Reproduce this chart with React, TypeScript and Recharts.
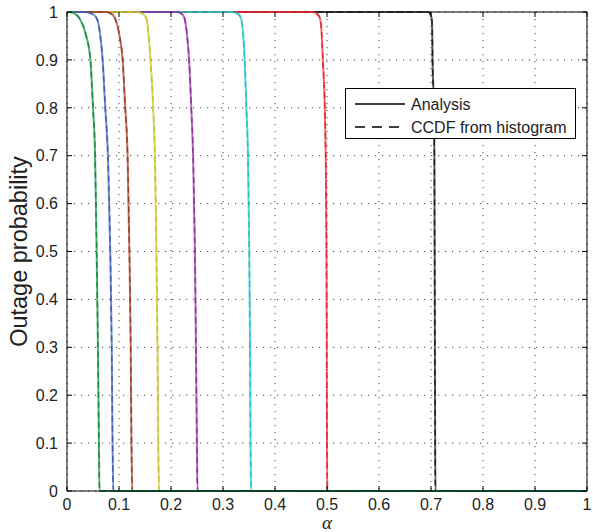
import { LineChart, Line, XAxis, YAxis, CartesianGrid, Label, ReferenceLine } from "recharts";

// outage probability levels shared by every curve
const P_LEVELS = [1, 1, 0.995, 0.985, 0.95, 0.9, 0.8, 0.7, 0.5, 0.3, 0.1, 0, 0];

// alpha where each curve passes the levels above
const ALPHA_GREEN = [0, 0.004, 0.017, 0.025, 0.037, 0.045, 0.05, 0.054, 0.057, 0.0595, 0.0614, 0.0625, 1];
const ALPHA_BLUE = [0, 0.035, 0.05, 0.058, 0.064, 0.0685, 0.0736, 0.0787, 0.0832, 0.086, 0.0876, 0.089, 1];
const ALPHA_BROWN = [0, 0.075, 0.087, 0.093, 0.101, 0.107, 0.112, 0.1165, 0.12, 0.1225, 0.124, 0.1254, 1];
const ALPHA_YELLOW = [0, 0.135, 0.147, 0.153, 0.157, 0.1606, 0.1657, 0.169, 0.172, 0.174, 0.1755, 0.177, 1];
const ALPHA_PURPLE = [0, 0.212, 0.222, 0.2265, 0.231, 0.2348, 0.239, 0.2425, 0.246, 0.248, 0.2498, 0.251, 1];
const ALPHA_CYAN = [0, 0.318, 0.33, 0.335, 0.339, 0.3417, 0.345, 0.348, 0.3505, 0.352, 0.353, 0.354, 1];
const ALPHA_RED = [0, 0.472, 0.482, 0.487, 0.49, 0.492, 0.4958, 0.4975, 0.499, 0.4995, 0.5, 0.5005, 1];
const ALPHA_BLACK = [0, 0.695, 0.699, 0.7015, 0.7025, 0.703, 0.7055, 0.7065, 0.707, 0.7075, 0.708, 0.7085, 1];

const TICKS = [0, 0.1, 0.2, 0.3, 0.4, 0.5, 0.6, 0.7, 0.8, 0.9, 1];
const TICK_LABELS = ["0", "0.1", "0.2", "0.3", "0.4", "0.5", "0.6", "0.7", "0.8", "0.9", "1"];

// drawn first to last, green ends up on top
const CURVES = [
  { name: "black", color: "#1a1a1a", alpha: ALPHA_BLACK },
  { name: "red", color: "#e8262b", alpha: ALPHA_RED },
  { name: "cyan", color: "#20c0c4", alpha: ALPHA_CYAN },
  { name: "purple", color: "#8c2e9c", alpha: ALPHA_PURPLE },
  { name: "yellow", color: "#c4c42a", alpha: ALPHA_YELLOW },
  { name: "brown", color: "#9e3a20", alpha: ALPHA_BROWN },
  { name: "blue", color: "#3b5cb8", alpha: ALPHA_BLUE },
  { name: "green", color: "#118c3e", alpha: ALPHA_GREEN },
];

const FONT = "'Liberation Sans', Arial, sans-serif";
const TICK_LEN = 5;

const W = 593;
const H = 532;
const M = { top: 12, right: 6, bottom: 0, left: 0 };
const X_AXIS_H = 41;
const Y_AXIS_W = 67;
const PLOT_TOP = M.top;
const PLOT_BOTTOM = H - M.bottom - X_AXIS_H;
const PLOT_LEFT = M.left + Y_AXIS_W;
const PLOT_RIGHT = W - M.right;

// bottom tick with label, plus the mirrored inward tick on the top edge
const BottomTick = (props: any) => {
  const { x, index } = props;
  return (
    <g>
      <line x1={x} x2={x} y1={PLOT_BOTTOM} y2={PLOT_BOTTOM - TICK_LEN} stroke="#000" />
      <line x1={x} x2={x} y1={PLOT_TOP} y2={PLOT_TOP + TICK_LEN} stroke="#000" />
      <text x={x} y={PLOT_BOTTOM + 19} textAnchor="middle" fontSize={16} fill="#222" fontFamily={FONT}>
        {TICK_LABELS[index]}
      </text>
    </g>
  );
};

const LeftTick = (props: any) => {
  const { y, index } = props;
  return (
    <g>
      <line x1={PLOT_LEFT} x2={PLOT_LEFT + TICK_LEN} y1={y} y2={y} stroke="#000" />
      <line x1={PLOT_RIGHT} x2={PLOT_RIGHT - TICK_LEN} y1={y} y2={y} stroke="#000" />
      <text x={PLOT_LEFT - 9} y={y} dy="0.36em" textAnchor="end" fontSize={16} fill="#222" fontFamily={FONT}>
        {TICK_LABELS[index]}
      </text>
    </g>
  );
};

const YTitle = () => {
  const cx = 19;
  const cy = (PLOT_TOP + PLOT_BOTTOM) / 2;
  return (
    <text
      x={cx}
      y={cy}
      transform={`rotate(-90 ${cx} ${cy})`}
      textAnchor="middle"
      dominantBaseline="central"
      fontSize={23.5}
      fill="#222"
      fontFamily={FONT}
    >
      Outage probability
    </text>
  );
};

const XTitle = () => (
  <text
    x={(PLOT_LEFT + PLOT_RIGHT) / 2}
    y={PLOT_BOTTOM + 38}
    textAnchor="middle"
    fontSize={19}
    fontStyle="italic"
    fill="#222"
    fontFamily="'Liberation Serif', 'DejaVu Serif', serif"
  >
    α
  </text>
);

export default function App() {
  return (
    <div style={{ position: "absolute", left: 0, top: 0, width: W, height: H, background: "#fff", fontFamily: FONT }}>
      <style>{"html, body { margin: 0; padding: 0; overflow: hidden; }"}</style>
      <LineChart width={W} height={H} margin={M}>
        <CartesianGrid stroke="#444" strokeDasharray="1.2 5.8" />
        <XAxis
          dataKey="a"
          type="number"
          domain={[0, 1]}
          ticks={TICKS}
          height={X_AXIS_H}
          tickSize={0}
          tickMargin={0}
          tickLine={false}
          axisLine={{ stroke: "#000" }}
          tick={<BottomTick />}
          interval={0}
        >
          <Label content={<XTitle />} />
        </XAxis>
        <YAxis
          type="number"
          domain={[0, 1]}
          ticks={TICKS}
          width={Y_AXIS_W}
          tickSize={0}
          tickMargin={0}
          tickLine={false}
          axisLine={{ stroke: "#000" }}
          tick={<LeftTick />}
          interval={0}
        >
          <Label content={<YTitle />} />
        </YAxis>
        <ReferenceLine x={1} stroke="#000" />
        <ReferenceLine y={1} stroke="#000" />
        {CURVES.flatMap((c) => {
          const d = c.alpha.map((a, i) => ({ a, p: P_LEVELS[i] }));
          return [
            <Line
              key={c.name + "-solid"}
              data={d}
              dataKey="p"
              type="monotone"
              stroke={c.color}
              strokeOpacity={0.7}
              strokeWidth={2}
              dot={false}
              activeDot={false}
              isAnimationActive={false}
            />,
            <Line
              key={c.name + "-dash"}
              data={d}
              dataKey="p"
              type="monotone"
              stroke={c.color}
              strokeWidth={1.4}
              strokeDasharray="6 4"
              dot={false}
              activeDot={false}
              isAnimationActive={false}
            />,
          ];
        })}
      </LineChart>
      <div
        style={{
          position: "absolute",
          left: 345,
          top: 88,
          width: 231,
          height: 51,
          border: "1px solid #000",
          background: "#fff",
          boxSizing: "border-box",
          fontSize: 16,
          color: "#222",
        }}
      >
        <svg width={229} height={49} style={{ position: "absolute", left: 0, top: 0 }}>
          <line x1={9} x2={59} y1={15} y2={15} stroke="#000" strokeWidth={1.6} />
          <line x1={9} x2={59} y1={38} y2={38} stroke="#000" strokeWidth={1.6} strokeDasharray="10 7" />
          <text x={65} y={15} dy="0.36em" fontSize={16} fill="#222" fontFamily={FONT}>
            Analysis
          </text>
          <text x={65} y={38} dy="0.36em" fontSize={16} fill="#222" fontFamily={FONT}>
            CCDF from histogram
          </text>
        </svg>
      </div>
    </div>
  );
}
